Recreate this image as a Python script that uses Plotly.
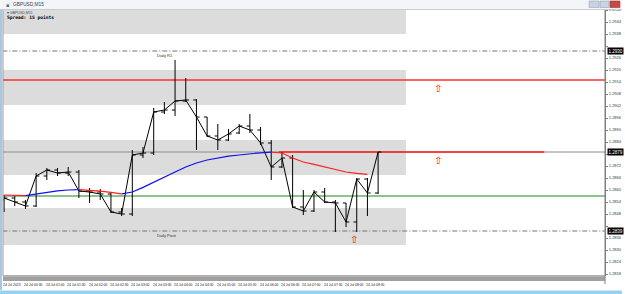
import plotly.graph_objects as go

# ---------------- data (GBPUSD, M15) ----------------
bars = list(range(36))
opens = [1.2855, 1.2856, 1.2854, 1.2852, 1.2867, 1.2870, 1.28685, 1.2869, 1.28595, 1.2859,
         1.2858, 1.2849, 1.2848, 1.28775, 1.28785, 1.2899, 1.2900, 1.29045, 1.2905, 1.28965,
         1.2887, 1.2885, 1.28885, 1.2892, 1.2890, 1.28835, 1.28715, 1.2876, 1.28515, 1.28495,
         1.2859, 1.2854, 1.28535, 1.2844, 1.28655, 1.28585]
highs = [1.28575, 1.2857, 1.2855, 1.28685, 1.2871, 1.2871, 1.28715, 1.2870, 1.2861, 1.28605,
         1.2859, 1.2851, 1.2880, 1.28815, 1.2901, 1.2904, 1.2925, 1.2916, 1.29055, 1.28965,
         1.2893, 1.28905, 1.2893, 1.2898, 1.28915, 1.2885, 1.2879, 1.28775, 1.2860, 1.2860,
         1.2861, 1.2855, 1.28535, 1.2866, 1.2866, 1.2879]
lows = [1.2849, 1.2852, 1.28505, 1.28515, 1.2865, 1.2867, 1.2867, 1.2856, 1.28535, 1.2855,
        1.28485, 1.2847, 1.2847, 1.2876, 1.28775, 1.2898, 1.2897, 1.2904, 1.2880, 1.28865,
        1.2880, 1.28845, 1.2888, 1.28885, 1.28825, 1.2865, 1.2871, 1.2851, 1.28475, 1.2849,
        1.28535, 1.2839, 1.28415, 1.2839, 1.2847, 1.2858]
closes = [1.2856, 1.2854, 1.2852, 1.2867, 1.2870, 1.28685, 1.2869, 1.28595, 1.2859, 1.2858,
          1.2849, 1.2848, 1.28775, 1.28785, 1.2899, 1.2900, 1.29045, 1.2905, 1.28965, 1.2887,
          1.2885, 1.2888, 1.2892, 1.2890, 1.28835, 1.28715, 1.2876, 1.28515, 1.28495, 1.2859,
          1.2854, 1.28535, 1.2844, 1.28655, 1.28585, 1.2879]
ma_values = [1.28575, 1.28574, 1.28572, 1.2858, 1.2859, 1.28596, 1.2860, 1.28602, 1.28599, 1.28594,
             1.28588, 1.28581, 1.2859, 1.28613, 1.2864, 1.28665, 1.2869, 1.28715, 1.28735, 1.2875,
             1.2876, 1.28769, 1.28775, 1.28782, 1.28786, 1.28789, 1.28785, 1.2876, 1.2874, 1.28728,
             1.28715, 1.28703, 1.2869, 1.28683, 1.28678]

zone_low = [1.2938, 1.29025, 1.28675, 1.28325]
zone_high = [1.2950, 1.2920, 1.2885, 1.2851]
zone_end_bar = 37.6

daily_r1 = 1.29295
daily_pivot = 1.28395
resistance_top = 1.2915
resistance_mid = 1.2879
resistance_mid_from, resistance_mid_to = 25.7, 50.55
support_green = 1.2857
current_price = closes[-1]

arrow_bars = [40.6, 40.6, 32.7]
arrow_prices = [resistance_top, resistance_mid, daily_pivot]

price_ticks = [1.2818, 1.2824, 1.2830, 1.2836, 1.2842, 1.2848, 1.2854, 1.2860, 1.2866, 1.2872,
               1.2878, 1.2884, 1.2890, 1.2896, 1.2902, 1.2908, 1.2914, 1.2920, 1.2926, 1.2932,
               1.2938, 1.2944, 1.2950]
label_bars = [0, 2, 4, 6, 8, 10, 12, 14, 16, 18, 20, 22, 24, 26, 28, 30, 32, 34]
time_labels = ["24 Jul 2023", "24 Jul 00:30", "24 Jul 01:00", "24 Jul 01:30", "24 Jul 02:00",
               "24 Jul 02:30", "24 Jul 03:00", "24 Jul 03:30", "24 Jul 04:00", "24 Jul 04:30",
               "24 Jul 05:00", "24 Jul 05:30", "24 Jul 06:00", "24 Jul 06:30", "24 Jul 07:00",
               "24 Jul 07:30", "24 Jul 08:00", "24 Jul 08:30"]

# ---------------- figure ----------------
W, H = 625, 294
ML, MR, MT, MB = 3, 17, 10, 18
PH = H - MT - MB
PW = W - ML - MR
XR = [-0.1, 56.23]


def py(pix):  # pixel row -> paper y (window chrome only)
    return (H - MB - pix) / PH


def px(pix):  # pixel column -> paper x (window chrome only)
    return (pix - ML) / PW


fig = go.Figure()

shapes = []
for lo, hi in zip(zone_low, zone_high):
    shapes.append(dict(type="rect", xref="x", yref="y", x0=XR[0] - 1, x1=zone_end_bar, y0=lo, y1=hi,
                       fillcolor="#dcdcdc", line=dict(width=0), layer="below"))


def hline(level, color, width, dash="solid", x0=XR[0] - 1, x1=XR[1] + 1):
    return dict(type="line", xref="x", yref="y", x0=x0, x1=x1, y0=level, y1=level,
                line=dict(color=color, width=width, dash=dash), layer="below")


shapes += [
    hline(daily_r1, "#666666", 0.9, "5px,2px,1px,2px"),
    hline(daily_pivot, "#666666", 0.9, "5px,2px,1px,2px"),
    hline(current_price, "#8a8a8a", 1),
    hline(support_green, "#1a8a1a", 1.2),
    hline(resistance_top, "#ff3030", 1.6),
    hline(resistance_mid, "#ff1a1a", 1.4, x0=resistance_mid_from, x1=resistance_mid_to),
]

# window chrome: title bar, buttons, bottom separators, status strip, borders
shapes += [
    dict(type="rect", xref="paper", yref="paper", x0=px(0), x1=px(W), y0=py(9.5), y1=py(0),
         fillcolor="#f3f5f8", line=dict(width=0)),
    dict(type="line", xref="paper", yref="paper", x0=px(0), x1=px(W), y0=py(9.5), y1=py(9.5),
         line=dict(color="#c8ccd2", width=1)),
    dict(type="rect", xref="paper", yref="paper", x0=px(592), x1=px(602), y0=py(7.5), y1=py(1),
         fillcolor="#c9d3e2", line=dict(color="#8c99ad", width=0.5)),
    dict(type="rect", xref="paper", yref="paper", x0=px(603), x1=px(612), y0=py(7.5), y1=py(1),
         fillcolor="#c9d3e2", line=dict(color="#8c99ad", width=0.5)),
    dict(type="rect", xref="paper", yref="paper", x0=px(613), x1=px(623), y0=py(7.5), y1=py(1),
         fillcolor="#c9483f", line=dict(color="#8c2a22", width=0.5)),
    dict(type="line", xref="paper", yref="paper", x0=0, x1=1, y0=py(276), y1=py(276),
         line=dict(color="#9a9a9a", width=1.5)),
    dict(type="line", xref="paper", yref="paper", x0=0, x1=1, y0=py(278), y1=py(278),
         line=dict(color="#111111", width=0.8)),
    dict(type="line", xref="paper", yref="paper", x0=0, x1=1, y0=py(280), y1=py(280),
         line=dict(color="#111111", width=0.8)),
    dict(type="line", xref="paper", yref="paper", x0=1, x1=1, y0=py(284), y1=py(10),
         line=dict(color="#808080", width=1)),
    dict(type="rect", xref="paper", yref="paper", x0=px(0), x1=px(W), y0=py(294), y1=py(290.5),
         fillcolor="#94d2f2", line=dict(width=0)),
    dict(type="line", xref="paper", yref="paper", x0=px(1), x1=px(1), y0=py(290), y1=py(10),
         line=dict(color="#a9c7e0", width=2)),
    dict(type="line", xref="paper", yref="paper", x0=0, x1=0, y0=py(276), y1=py(10),
         line=dict(color="#9a9a9a", width=1)),
]

# OHLC bars
fig.add_trace(go.Ohlc(x=bars, open=opens, high=highs, low=lows, close=closes,
                      increasing=dict(line=dict(color="black", width=1)),
                      decreasing=dict(line=dict(color="black", width=1)),
                      tickwidth=0.3, hoverinfo="skip", showlegend=False))

# close line
fig.add_trace(go.Scatter(x=bars, y=closes, mode="lines", line=dict(color="black", width=1),
                         hoverinfo="skip", showlegend=False))

# moving average coloured by slope
runs = []
for i in range(1, len(ma_values)):
    col = "#ff2020" if ma_values[i] < ma_values[i - 1] else "#1010ee"
    if runs and runs[-1][0] == col:
        runs[-1][1].append(i)
    else:
        runs.append([col, [i - 1, i]])
for col, idx in runs:
    fig.add_trace(go.Scatter(x=[bars[k] for k in idx], y=[ma_values[k] for k in idx], mode="lines",
                             line=dict(color=col, width=1.2), hoverinfo="skip", showlegend=False))

annotations = []
for xb, pr in zip(arrow_bars, arrow_prices):
    annotations.append(dict(x=xb, y=pr, xref="x", yref="y", text="⇧", showarrow=False,
                            yanchor="top", xanchor="center", yshift=-1,
                            font=dict(family="DejaVu Sans", size=10, color="#ff0000")))
annotations.append(dict(x=14.1, y=daily_r1, xref="x", yref="y", text="Daily R1", showarrow=False,
                        xanchor="left", yanchor="top", yshift=0.5,
                        font=dict(family="Liberation Sans", size=4, color="#333333")))
annotations.append(dict(x=14.1, y=daily_pivot, xref="x", yref="y", text="Daily Pivot", showarrow=False,
                        xanchor="left", yanchor="top", yshift=0.5,
                        font=dict(family="Liberation Sans", size=4, color="#333333")))

boxed = [daily_r1, current_price, daily_pivot]
for pr in boxed:
    annotations.append(dict(x=1, y=pr, xref="paper", yref="y", text=f"{pr:.4f}", showarrow=False,
                            xanchor="left", yanchor="middle", xshift=2, bgcolor="#000000",
                            borderpad=0.5,
                            font=dict(family="Liberation Sans", size=4.5, color="white")))

# price tick labels: hide those covered by a boxed label
tick_text = ["" if min(abs(v - b) for b in boxed) < 0.00026 else f"{v:.4f}" for v in price_ticks]

for xb, lab in zip(label_bars, time_labels):
    annotations.append(dict(x=xb, y=py(284.5), xref="x", yref="paper", text=lab, showarrow=False,
                            xanchor="left", yanchor="middle", xshift=-3,
                            font=dict(family="Liberation Sans", size=3.4, color="#222222")))

annotations += [
    dict(x=px(11), y=py(5), xref="paper", yref="paper", text="GBPUSD,M15", showarrow=False,
         xanchor="left", yanchor="middle", font=dict(family="Liberation Sans", size=4.8, color="#444444")),
    dict(x=px(4), y=py(5), xref="paper", yref="paper", text="▪", showarrow=False,
         xanchor="left", yanchor="middle", font=dict(family="DejaVu Sans", size=5, color="#3a6ea5")),
    dict(x=px(5), y=py(13), xref="paper", yref="paper", text="▾ GBPUSD,M15", showarrow=False,
         xanchor="left", yanchor="middle", font=dict(family="Liberation Sans", size=3.5, color="#444444")),
    dict(x=px(5), y=py(17.5), xref="paper", yref="paper", text="<b>Spread: 15 points</b>",
         showarrow=False, xanchor="left", yanchor="middle",
         font=dict(family="DejaVu Sans Mono", size=4.6, color="#000000")),
]

fig.update_layout(
    width=W, height=H,
    margin=dict(l=ML, r=MR, t=MT, b=MB),
    paper_bgcolor="white", plot_bgcolor="white",
    shapes=shapes, annotations=annotations,
    xaxis=dict(range=XR, showgrid=False, zeroline=False, showticklabels=False,
               showline=False, ticks="", rangeslider=dict(visible=False), fixedrange=True),
    yaxis=dict(range=[1.2817, 1.2950], side="right", showgrid=False, zeroline=False,
               tickvals=price_ticks, ticktext=tick_text,
               ticks="outside", ticklen=2, tickcolor="#808080", showline=True,
               linecolor="#808080", linewidth=1,
               tickfont=dict(family="Liberation Sans", size=4, color="#333333"), fixedrange=True),
    showlegend=False,
)

fig.write_html("out.html")
